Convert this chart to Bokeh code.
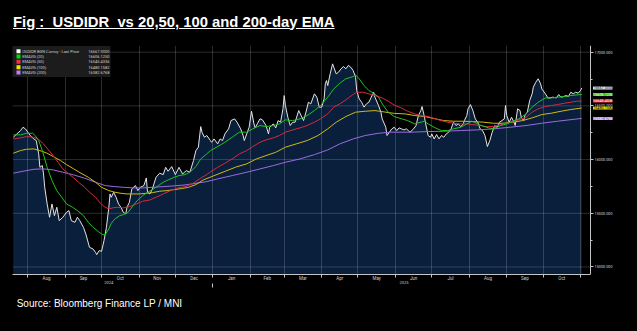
import pandas as pd
from bokeh.plotting import figure
from bokeh.models import (ColumnDataSource, FixedTicker, DatetimeTickFormatter, DatetimeAxis,
                          NumeralTickFormatter, Label, BoxAnnotation, Range1d, Div)
from bokeh.layouts import column
from bokeh.embed import file_html
from bokeh.resources import INLINE

# ---------------- data ----------------
price_dates = [
    "2024-07-20", "2024-07-23", "2024-07-26", "2024-07-28", "2024-07-30", "2024-08-01", "2024-08-03",
    "2024-08-06", "2024-08-08", "2024-08-10", "2024-08-11", "2024-08-13", "2024-08-14", "2024-08-15",
    "2024-08-17", "2024-08-19", "2024-08-21", "2024-08-23", "2024-08-25", "2024-08-27", "2024-08-30",
    "2024-09-02", "2024-09-04", "2024-09-06", "2024-09-09", "2024-09-11", "2024-09-13", "2024-09-16",
    "2024-09-18", "2024-09-21", "2024-09-24", "2024-09-26", "2024-09-27", "2024-09-29", "2024-10-01",
    "2024-10-03", "2024-10-05", "2024-10-07", "2024-10-08", "2024-10-09", "2024-10-11", "2024-10-13",
    "2024-10-15", "2024-10-17", "2024-10-19", "2024-10-21", "2024-10-22", "2024-10-24", "2024-10-26",
    "2024-10-29", "2024-10-31", "2024-11-02", "2024-11-05", "2024-11-07", "2024-11-08", "2024-11-10",
    "2024-11-12", "2024-11-15", "2024-11-18", "2024-11-21", "2024-11-23", "2024-11-25", "2024-11-28",
    "2024-12-01", "2024-12-04", "2024-12-07", "2024-12-10", "2024-12-13", "2024-12-16", "2024-12-18",
    "2024-12-20", "2024-12-22", "2024-12-23", "2024-12-25", "2024-12-27", "2024-12-30", "2024-12-31",
    "2025-01-02", "2025-01-05", "2025-01-07", "2025-01-09", "2025-01-11", "2025-01-14", "2025-01-16",
    "2025-01-19", "2025-01-21", "2025-01-24", "2025-01-26", "2025-01-27", "2025-01-29", "2025-01-31",
    "2025-02-02", "2025-02-04", "2025-02-05", "2025-02-07", "2025-02-09", "2025-02-11", "2025-02-14",
    "2025-02-16", "2025-02-17", "2025-02-20", "2025-02-22", "2025-02-24", "2025-02-26", "2025-02-28",
    "2025-03-01", "2025-03-02", "2025-03-04", "2025-03-06", "2025-03-08", "2025-03-10", "2025-03-13",
    "2025-03-15", "2025-03-17", "2025-03-19", "2025-03-21", "2025-03-23", "2025-03-26", "2025-03-28",
    "2025-03-30", "2025-04-01", "2025-04-03", "2025-04-04", "2025-04-05", "2025-04-06", "2025-04-08",
    "2025-04-10", "2025-04-11", "2025-04-13", "2025-04-15", "2025-04-17", "2025-04-19", "2025-04-21",
    "2025-04-23", "2025-04-25", "2025-04-27", "2025-04-29", "2025-04-30", "2025-05-02", "2025-05-04",
    "2025-05-06", "2025-05-08", "2025-05-10", "2025-05-12", "2025-05-14", "2025-05-15", "2025-05-18",
    "2025-05-20", "2025-05-21", "2025-05-24", "2025-05-25", "2025-05-27", "2025-05-29", "2025-05-31",
    "2025-06-02", "2025-06-04", "2025-06-06", "2025-06-08", "2025-06-10", "2025-06-13", "2025-06-16",
    "2025-06-18", "2025-06-20", "2025-06-22", "2025-06-23", "2025-06-25", "2025-06-26", "2025-06-28",
    "2025-06-30", "2025-07-01", "2025-07-03", "2025-07-05", "2025-07-07", "2025-07-09", "2025-07-11",
    "2025-07-13", "2025-07-15", "2025-07-17", "2025-07-19", "2025-07-21", "2025-07-23", "2025-07-25",
    "2025-07-27", "2025-07-28", "2025-07-30", "2025-07-31", "2025-08-02", "2025-08-04", "2025-08-06",
    "2025-08-08", "2025-08-10", "2025-08-12", "2025-08-14", "2025-08-16", "2025-08-18", "2025-08-20",
    "2025-08-22", "2025-08-24", "2025-08-26", "2025-08-28", "2025-08-30", "2025-08-31", "2025-09-01",
    "2025-09-03", "2025-09-05", "2025-09-07", "2025-09-08", "2025-09-10", "2025-09-12", "2025-09-13",
    "2025-09-15", "2025-09-16", "2025-09-18", "2025-09-20", "2025-09-22", "2025-09-23", "2025-09-25",
    "2025-09-27", "2025-09-29", "2025-09-30", "2025-10-03", "2025-10-05", "2025-10-07", "2025-10-09",
    "2025-10-12", "2025-10-14", "2025-10-16", "2025-10-18", "2025-10-20", "2025-10-22", "2025-10-24",
    "2025-10-26", "2025-10-28", "2025-10-30", "2025-11-01", "2025-11-02",
]
price_values = [
    16208, 16239, 16270, 16301, 16286, 16255, 16224,
    16192, 16177, 16053, 15928, 15944, 15866, 15742,
    15587, 15463, 15587, 15478, 15556, 15431, 15463,
    15509, 15525, 15431, 15416, 15463, 15431, 15369,
    15307, 15183, 15167, 15136, 15115, 15152, 15146,
    15245, 15369, 15556, 15680, 15649, 15696, 15649,
    15587, 15556, 15509, 15494, 15556, 15602, 15727,
    15758, 15711, 15742, 15758, 15829, 15696, 15680,
    15727, 15835, 15873, 15860, 15928, 15891, 15935,
    15860, 15928, 15866, 15897, 15882, 15990, 16084,
    16115, 16307, 16255, 16208, 16224, 16177, 16161,
    16192, 16146, 16192, 16177, 16239, 16286, 16363,
    16379, 16348, 16286, 16224, 16177, 16239, 16301,
    16450, 16332, 16295, 16338, 16379, 16370, 16317,
    16239, 16301, 16332, 16295, 16363, 16348, 16472,
    16596, 16503, 16394, 16317, 16348, 16348, 16456,
    16410, 16363, 16441, 16534, 16519, 16612, 16581,
    16488, 16488, 16565, 16705, 16736, 16689, 16798,
    16891, 16860, 16798, 16814, 16845, 16866, 16845,
    16876, 16860, 16829, 16767, 16643, 16565, 16534,
    16488, 16519, 16534, 16581, 16627, 16581, 16503,
    16441, 16379, 16301, 16224, 16255, 16286, 16301,
    16270, 16295, 16286, 16276, 16286, 16255, 16286,
    16317, 16410, 16456, 16494, 16394, 16332, 16224,
    16208, 16239, 16192, 16233, 16192, 16224, 16208,
    16239, 16255, 16286, 16348, 16317, 16332, 16307,
    16332, 16363, 16410, 16472, 16512, 16456, 16379,
    16348, 16286, 16270, 16224, 16121, 16177, 16255,
    16317, 16301, 16348, 16363, 16379, 16503, 16410,
    16348, 16394, 16348, 16317, 16472, 16456, 16394,
    16363, 16410, 16441, 16550, 16612, 16674, 16720,
    16752, 16705, 16658, 16612, 16574, 16574, 16581,
    16574, 16605, 16581, 16587, 16596, 16587, 16627,
    16612, 16627, 16618, 16643, 16667,
]

ema20_dates = [
    "2024-07-20", "2024-07-26", "2024-07-31", "2024-08-05", "2024-08-07", "2024-08-10", "2024-08-13",
    "2024-08-17", "2024-08-21", "2024-08-25", "2024-08-29", "2024-09-02", "2024-09-07", "2024-09-11",
    "2024-09-16", "2024-09-20", "2024-09-24", "2024-09-29", "2024-10-02", "2024-10-04", "2024-10-07",
    "2024-10-09", "2024-10-12", "2024-10-16", "2024-10-19", "2024-10-23", "2024-10-27", "2024-10-31",
    "2024-11-04", "2024-11-08", "2024-11-12", "2024-11-17", "2024-11-21", "2024-11-25", "2024-11-30",
    "2024-12-04", "2024-12-09", "2024-12-13", "2024-12-18", "2024-12-22", "2024-12-27", "2024-12-30",
    "2025-01-05", "2025-01-11", "2025-01-17", "2025-01-23", "2025-01-29", "2025-02-03", "2025-02-09",
    "2025-02-14", "2025-02-20", "2025-02-25", "2025-03-02", "2025-03-08", "2025-03-14", "2025-03-20",
    "2025-03-26", "2025-03-31", "2025-04-06", "2025-04-11", "2025-04-16", "2025-04-21", "2025-04-27",
    "2025-04-29", "2025-05-02", "2025-05-06", "2025-05-10", "2025-05-14", "2025-05-18", "2025-05-22",
    "2025-05-26", "2025-05-31", "2025-06-06", "2025-06-11", "2025-06-17", "2025-06-22", "2025-06-25",
    "2025-06-28", "2025-07-04", "2025-07-09", "2025-07-14", "2025-07-19", "2025-07-25", "2025-07-30",
    "2025-08-03", "2025-08-07", "2025-08-11", "2025-08-17", "2025-08-21", "2025-08-27", "2025-09-01",
    "2025-09-06", "2025-09-11", "2025-09-17", "2025-09-22", "2025-09-27", "2025-10-03", "2025-10-08",
    "2025-10-13", "2025-10-19", "2025-10-24", "2025-10-29", "2025-11-02",
]
ema20_values = [
    16230, 16230, 16245, 16245, 16224, 16177, 16084,
    15928, 15804, 15711, 15649, 15587, 15556, 15525,
    15478, 15416, 15369, 15323, 15301, 15301, 15354,
    15407, 15447, 15478, 15487, 15509, 15571, 15624,
    15664, 15696, 15720, 15758, 15789, 15810, 15835,
    15851, 15860, 15882, 15935, 16006, 16053, 16084,
    16121, 16161, 16208, 16255, 16255, 16286, 16317,
    16307, 16317, 16332, 16370, 16363, 16379, 16410,
    16456, 16503, 16581, 16658, 16711, 16752, 16773,
    16789, 16752, 16689, 16643, 16618, 16581, 16503,
    16441, 16400, 16380, 16363, 16332, 16348, 16357,
    16332, 16295, 16270, 16270, 16286, 16301, 16332,
    16357, 16338, 16317, 16295, 16286, 16317, 16332,
    16357, 16379, 16425, 16488, 16534, 16574, 16574,
    16581, 16587, 16596, 16602, 16606,
]

ema50_dates = [
    "2024-07-20", "2024-07-26", "2024-07-31", "2024-08-06", "2024-08-10", "2024-08-14", "2024-08-18",
    "2024-08-22", "2024-08-26", "2024-08-30", "2024-09-04", "2024-09-08", "2024-09-12", "2024-09-17",
    "2024-09-21", "2024-09-26", "2024-09-30", "2024-10-04", "2024-10-07", "2024-10-10", "2024-10-14",
    "2024-10-19", "2024-10-24", "2024-10-30", "2024-11-04", "2024-11-10", "2024-11-15", "2024-11-21",
    "2024-11-27", "2024-12-03", "2024-12-09", "2024-12-15", "2024-12-21", "2024-12-27", "2024-12-30",
    "2025-01-05", "2025-01-11", "2025-01-17", "2025-01-23", "2025-01-29", "2025-02-03", "2025-02-09",
    "2025-02-14", "2025-02-20", "2025-02-25", "2025-03-02", "2025-03-08", "2025-03-14", "2025-03-20",
    "2025-03-26", "2025-03-31", "2025-04-06", "2025-04-11", "2025-04-16", "2025-04-21", "2025-04-27",
    "2025-04-30", "2025-05-05", "2025-05-10", "2025-05-15", "2025-05-21", "2025-05-26", "2025-05-31",
    "2025-06-06", "2025-06-11", "2025-06-17", "2025-06-22", "2025-06-28", "2025-07-04", "2025-07-09",
    "2025-07-14", "2025-07-19", "2025-07-25", "2025-07-30", "2025-08-04", "2025-08-10", "2025-08-15",
    "2025-08-21", "2025-08-27", "2025-09-01", "2025-09-06", "2025-09-11", "2025-09-17", "2025-09-22",
    "2025-09-27", "2025-10-03", "2025-10-08", "2025-10-13", "2025-10-19", "2025-10-24", "2025-10-29",
    "2025-11-02",
]
ema50_values = [
    16192, 16202, 16214, 16208, 16186, 16146, 16090,
    16037, 15975, 15913, 15866, 15829, 15789, 15742,
    15696, 15649, 15593, 15556, 15540, 15550, 15556,
    15550, 15562, 15587, 15612, 15624, 15649, 15680,
    15711, 15736, 15748, 15773, 15820, 15860, 15885,
    15928, 15966, 16006, 16053, 16084, 16121, 16161,
    16183, 16202, 16224, 16255, 16276, 16295, 16317,
    16348, 16379, 16425, 16488, 16519, 16556, 16606,
    16627, 16627, 16612, 16596, 16574, 16543, 16508,
    16480, 16450, 16425, 16410, 16401, 16379, 16363,
    16348, 16338, 16332, 16332, 16326, 16317, 16307,
    16307, 16326, 16338, 16351, 16370, 16394, 16441,
    16472, 16494, 16503, 16512, 16525, 16534, 16543,
    16545,
]

ema100_dates = [
    "2024-07-20", "2024-07-26", "2024-07-31", "2024-08-06", "2024-08-11", "2024-08-17", "2024-08-22",
    "2024-08-28", "2024-09-02", "2024-09-08", "2024-09-14", "2024-09-20", "2024-09-26", "2024-10-01",
    "2024-10-07", "2024-10-12", "2024-10-17", "2024-10-22", "2024-10-27", "2024-11-01", "2024-11-07",
    "2024-11-12", "2024-11-18", "2024-11-24", "2024-11-30", "2024-12-06", "2024-12-12", "2024-12-18",
    "2024-12-24", "2025-01-02", "2025-01-11", "2025-01-20", "2025-01-29", "2025-02-06", "2025-02-14",
    "2025-02-22", "2025-03-02", "2025-03-11", "2025-03-20", "2025-03-29", "2025-04-06", "2025-04-13",
    "2025-04-21", "2025-04-29", "2025-05-07", "2025-05-15", "2025-05-24", "2025-05-31", "2025-06-09",
    "2025-06-17", "2025-06-25", "2025-07-04", "2025-07-11", "2025-07-19", "2025-07-27", "2025-08-04",
    "2025-08-13", "2025-08-21", "2025-08-29", "2025-09-06", "2025-09-14", "2025-09-22", "2025-09-30",
    "2025-10-08", "2025-10-16", "2025-10-24", "2025-11-02",
]
ema100_values = [
    16059, 16084, 16096, 16099, 16084, 16059, 16028,
    15991, 15953, 15913, 15873, 15835, 15789, 15742,
    15711, 15696, 15686, 15680, 15680, 15680, 15686,
    15692, 15705, 15711, 15720, 15730, 15742, 15767,
    15810, 15850, 15890, 15930, 15960, 16006, 16037,
    16068, 16115, 16146, 16177, 16224, 16286, 16348,
    16401, 16441, 16450, 16456, 16441, 16430, 16425,
    16410, 16401, 16379, 16363, 16357, 16357, 16354,
    16348, 16338, 16338, 16348, 16363, 16388, 16419,
    16432, 16450, 16466, 16480,
]

ema200_dates = [
    "2024-07-20", "2024-07-28", "2024-08-06", "2024-08-14", "2024-08-22", "2024-08-30", "2024-09-08",
    "2024-09-17", "2024-09-26", "2024-10-04", "2024-10-12", "2024-10-19", "2024-10-27", "2024-11-04",
    "2024-11-12", "2024-11-21", "2024-11-30", "2024-12-09", "2024-12-18", "2024-12-27", "2025-01-05",
    "2025-01-17", "2025-01-29", "2025-02-09", "2025-02-20", "2025-03-02", "2025-03-14", "2025-03-26",
    "2025-04-06", "2025-04-16", "2025-04-27", "2025-05-07", "2025-05-18", "2025-05-28", "2025-06-14",
    "2025-06-28", "2025-07-11", "2025-07-25", "2025-08-07", "2025-08-21", "2025-09-04", "2025-09-17",
    "2025-09-30", "2025-10-13", "2025-10-25", "2025-11-02",
]
ema200_values = [
    15873, 15891, 15910, 15913, 15904, 15882, 15857,
    15826, 15789, 15758, 15748, 15742, 15736, 15736,
    15742, 15748, 15755, 15764, 15779, 15795, 15820,
    15851, 15882, 15913, 15944, 15975, 16006, 16046,
    16090, 16146, 16192, 16224, 16245, 16255, 16255,
    16261, 16264, 16270, 16276, 16286, 16301, 16317,
    16338, 16357, 16373, 16383,
]

series_names = ["USDIDR BGN Curncy - Last Price", "EMAVG (20)", "EMAVG (50)", "EMAVG (100)", "EMAVG (200)"]
last_values = [16667.0000, 16606.1250, 16545.4336, 16480.1582, 16382.6768]
last_labels = ["16667.0000", "16606.1250", "16545.4336", "16480.1582", "16382.6768"]

y_ticks = [15000, 15500, 16000, 16500, 17000]
y_minor_ticks = [15250, 15750, 16250, 16750]
year_label_dates = ["2024-10-07", "2025-06-08"]
year_break_dates = ["2025-01-01"]

title_text = "Fig :  USDIDR  vs 20,50, 100 and 200-day EMA"
source_text = "Source: Bloomberg Finance LP / MNI"

# ---------------- styling ----------------
line_colors = ["#e4e4e4", "#1fc41f", "#d52a40", "#cdbb16", "#9b6be0"]
swatch_colors = ["#ffffff", "#00dd00", "#ff2a44", "#ffe100", "#c07cff"]
tag_fill = ["#f2f2f2", "#14cc14", "#f0304c", "#f2e000", "#a574ee"]
tag_text = ["#000000", "#ffffff", "#ffffff", "#000000", "#ffffff"]
AREA = "#0a1f3b"
AXIS = "#c4c4c4"
SMALL = "Roboto"


def to_ms(dates):
    return list(pd.to_datetime(dates).asi8 / 1e6)


month_starts = pd.date_range("2024-08-01", "2025-11-01", freq="MS")
mid_months = month_starts[:-1] + (month_starts[1:] - month_starts[:-1]) / 2

Y0, Y1 = 14930, 17062
X0 = pd.Timestamp("2024-07-19 08:24")
X1 = pd.Timestamp("2025-11-27 10:48")
AXIS_AT = pd.Timestamp("2025-11-09 06:30")     # where the value axis is drawn
AXIS_MS = to_ms([AXIS_AT])[0]

p = figure(frame_width=600, frame_height=229, x_axis_type="datetime", y_axis_location="right",
           x_range=Range1d(X0, X1), y_range=Range1d(Y0, Y1), title=None,
           output_backend="svg", toolbar_location=None,
           min_border_left=12, min_border_right=25, min_border_top=5, min_border_bottom=18,
           background_fill_color="black", border_fill_color="black", outline_line_color=None)

# area under price
src_price = ColumnDataSource(dict(x=pd.to_datetime(price_dates), y=price_values))
area = p.varea(x="x", y1=Y0, y2="y", source=src_price, fill_color=AREA)
area.level = "image"

# grids: vertical at month starts, horizontal value lines ending at the value axis
p.xgrid.ticker = FixedTicker(ticks=to_ms(month_starts))
p.xgrid.grid_line_color = "#ffffff"
p.xgrid.grid_line_alpha = 0.17
p.ygrid.visible = False
hgrid = p.segment(x0=[X0] * len(y_ticks), x1=[AXIS_AT] * len(y_ticks), y0=y_ticks, y1=y_ticks,
                  line_color="#ffffff", line_alpha=0.17, line_width=1)
hgrid.level = "underlay"

series = [(ema200_dates, ema200_values, 4), (ema100_dates, ema100_values, 3),
          (ema50_dates, ema50_values, 2), (ema20_dates, ema20_values, 1)]
p.line("x", "y", source=src_price, line_color=line_colors[0], line_width=1)
for d, v, i in series:
    p.line(pd.to_datetime(d), v, line_color=line_colors[i], line_width=1)

# y axis (right side panel, drawn at the end of the time axis)
ya = p.yaxis[0]
ya.fixed_location = AXIS_MS
ya.ticker = FixedTicker(ticks=y_ticks, minor_ticks=y_minor_ticks)
ya.formatter = NumeralTickFormatter(format="0.0000")
ya.axis_line_color = AXIS
ya.major_tick_line_color = AXIS
ya.minor_tick_line_color = AXIS
ya.major_tick_out = 3
ya.major_tick_in = 0
ya.minor_tick_out = 2
ya.minor_tick_in = 0
ya.major_label_standoff = 1
ya.major_label_text_font = SMALL
ya.major_label_text_font_size = "3.8px"
ya.major_label_text_color = "#d8d8d8"

# x axis: month names centred in each month, tick marks at month starts
fmt_b = DatetimeTickFormatter(milliseconds="%b", seconds="%b", minsec="%b", minutes="%b",
                              hourmin="%b", hours="%b", days="%b", months="%b", years="%b")
xa = p.xaxis[0]
xa.ticker = FixedTicker(ticks=to_ms(mid_months), minor_ticks=to_ms(month_starts))
xa.formatter = fmt_b
xa.bounds = (to_ms([X0])[0], AXIS_MS)
xa.axis_line_color = AXIS
xa.major_tick_line_color = None
xa.major_tick_out = 0
xa.major_tick_in = 0
xa.minor_tick_line_color = AXIS
xa.minor_tick_out = 3
xa.minor_tick_in = 0
xa.major_label_standoff = -2
xa.major_label_text_font = SMALL
xa.major_label_text_font_size = "4.5px"
xa.major_label_text_color = "#d0d0d0"

fmt_y = DatetimeTickFormatter(milliseconds="%Y", seconds="%Y", minsec="%Y", minutes="%Y",
                              hourmin="%Y", hours="%Y", days="%Y", months="%Y", years="%Y")
year_axis = DatetimeAxis(ticker=FixedTicker(ticks=to_ms(year_label_dates), minor_ticks=to_ms(year_break_dates)),
                         formatter=fmt_y, axis_line_color=None, major_tick_line_color=None,
                         major_tick_out=0, major_tick_in=0, minor_tick_line_color=AXIS,
                         minor_tick_out=4, minor_tick_in=0, major_label_standoff=-7,
                         major_label_text_font=SMALL, major_label_text_font_size="4px",
                         major_label_text_color="#c8c8c8")
p.add_layout(year_axis, "below")

# legend box (Bloomberg style)
p.add_layout(BoxAnnotation(left=-2, right=98, top=228.5, bottom=197.5, left_units="screen",
                           right_units="screen", top_units="screen", bottom_units="screen",
                           fill_color="#1c1c1c", fill_alpha=1, line_color=None))
row_y = [223.3, 218.0, 212.7, 207.3, 202.0]
for i, name in enumerate(series_names):
    cy = row_y[i]
    p.add_layout(BoxAnnotation(left=4, right=8, top=cy + 2, bottom=cy - 2, left_units="screen",
                               right_units="screen", top_units="screen", bottom_units="screen",
                               fill_color=swatch_colors[i], fill_alpha=1, line_color=None))
    p.add_layout(Label(x=9.7, y=cy, x_units="screen", y_units="screen", text=name,
                       text_font=SMALL, text_font_size="4px", text_color="#cfcfcf",
                       text_baseline="middle"))
    p.add_layout(Label(x=97, y=cy, x_units="screen", y_units="screen", text=last_labels[i],
                       text_font=SMALL, text_font_size="4px", text_color="#cfcfcf",
                       text_baseline="middle", text_align="right"))

# last-value tags next to the value axis
for i in range(5):
    p.add_layout(Label(x=AXIS_MS, y=last_values[i], x_offset=2.5, x_units="data", y_units="data",
                       text=last_labels[i], text_font=SMALL, text_font_size="3.8px",
                       text_color=tag_text[i], text_baseline="middle", text_align="left",
                       background_fill_color=tag_fill[i], background_fill_alpha=1))

title_div = Div(
    text=('<div style="color:#ffffff;font-family:\'Liberation Sans\';font-weight:bold;'
          'font-size:14.8px;line-height:18px;text-decoration:underline;white-space:pre;'
          'padding:12.5px 0 0 13px;">' + title_text + '</div>'),
    width=637, height=40, margin=0, styles={"background-color": "black"})
source_div = Div(
    text=('<div style="color:#ffffff;font-family:\'Liberation Sans\';font-size:10px;'
          'line-height:12px;white-space:pre;padding:6px 0 0 16.7px;">' + source_text + '</div>'),
    width=637, height=39, margin=0, styles={"background-color": "black"})

layout = column(title_div, p, source_div, spacing=0, styles={"background-color": "black"})

open("out.html", "w").write(file_html(layout, INLINE))
